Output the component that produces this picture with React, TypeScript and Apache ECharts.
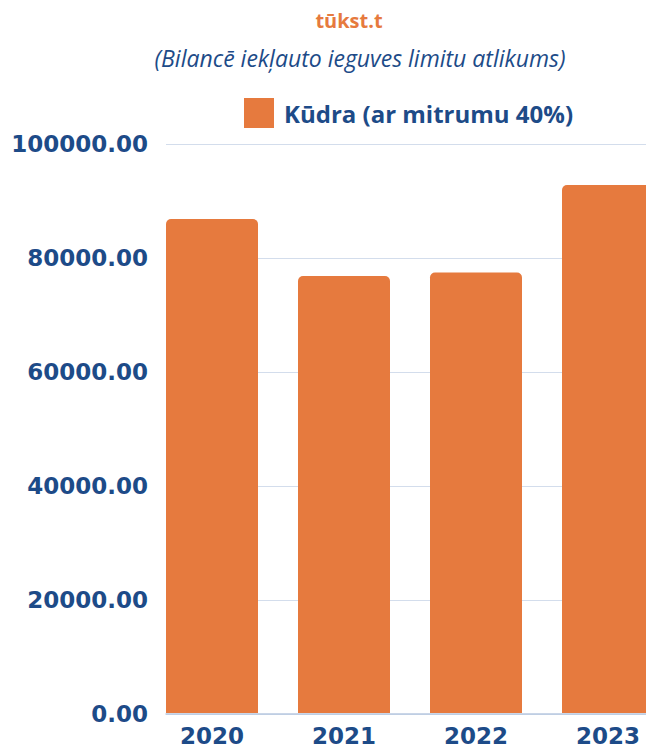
import React, { useEffect, useRef } from "react";
import * as echarts from "echarts";

const categories = ["2020", "2021", "2022", "2023"];
const values = [86800, 76800, 77400, 92800];
const seriesName = "Kūdra (ar mitrumu 40%)";
const unitText = "tūkst.t";
const subtitleText = "(Bilancē iekļauto ieguves limitu atlikums)";
const yMin = 0;
const yMax = 100000;
const yInterval = 20000;

const BLUE = "#1d4b88";
const ORANGE = "#e67a3e";

export default function App() {
  const ref = useRef<HTMLDivElement>(null);
  useEffect(() => {
    if (!ref.current) return;
    const chart = echarts.init(ref.current, null, { renderer: "svg" });
    const labelFont = {
      fontFamily: "DejaVu Sans",
      fontWeight: "bold" as const,
      fontSize: 23,
      color: BLUE,
    };
    chart.setOption({
      animation: false,
      backgroundColor: "#ffffff",
      legend: {
        data: [seriesName],
        left: 244,
        top: 98,
        padding: 0,
        icon: "rect",
        itemWidth: 30,
        itemHeight: 30,
        itemGap: 10,
        textStyle: {
          fontFamily: "Open Sans",
          fontWeight: "bold",
          fontSize: 24,
          color: BLUE,
          padding: [0, 0, 0, 5],
        },
      },
      graphic: [
        {
          type: "text",
          x: 349,
          y: 20,
          style: {
            text: unitText,
            fill: ORANGE,
            fontFamily: "Open Sans",
            fontWeight: "bold",
            fontSize: 20,
            textAlign: "center",
            textVerticalAlign: "middle",
          },
        },
        {
          type: "text",
          x: 360,
          y: 58,
          style: {
            text: subtitleText,
            fill: BLUE,
            fontFamily: "Open Sans",
            fontStyle: "italic",
            fontSize: 23,
            textAlign: "center",
            textVerticalAlign: "middle",
          },
        },
      ],
      grid: [
        { left: 166, top: 144, bottom: 33, right: 0, containLabel: false },
        { left: 146, top: 144, bottom: 33, width: 528, containLabel: false },
      ],
      xAxis: [
        {
          gridIndex: 0,
          type: "category",
          data: categories,
          axisLine: { show: true, lineStyle: { color: "#b9c9e1", width: 1.5 } },
          axisTick: { show: false },
          axisLabel: { show: false },
          splitLine: { show: false },
        },
        {
          gridIndex: 1,
          type: "category",
          data: categories,
          axisLine: { show: false },
          axisTick: { show: false },
          axisLabel: { ...labelFont, margin: 11 },
        },
      ],
      yAxis: [
        {
          gridIndex: 0,
          type: "value",
          min: yMin,
          max: yMax,
          interval: yInterval,
          axisLine: { show: false },
          axisTick: { show: false },
          axisLabel: {
            ...labelFont,
            margin: 18,
            formatter: (v: number) => v.toFixed(2),
          },
          splitLine: { show: true, lineStyle: { color: "#d3ddec", width: 1 } },
        },
        {
          gridIndex: 1,
          type: "value",
          min: yMin,
          max: yMax,
          interval: yInterval,
          show: false,
          splitLine: { show: false },
        },
      ],
      series: [
        {
          name: seriesName,
          type: "bar",
          xAxisIndex: 1,
          yAxisIndex: 1,
          data: values,
          barWidth: 92,
          itemStyle: { color: ORANGE, borderRadius: [5, 5, 0, 0] },
          z: 3,
        },
      ],
    });
    return () => chart.dispose();
  }, []);
  return (
    <div
      style={{
        position: "absolute",
        left: 0,
        top: 0,
        width: 646,
        height: 747,
        overflow: "hidden",
      }}
    >
      <div ref={ref} style={{ width: 680, height: 747 }} />
    </div>
  );
}
